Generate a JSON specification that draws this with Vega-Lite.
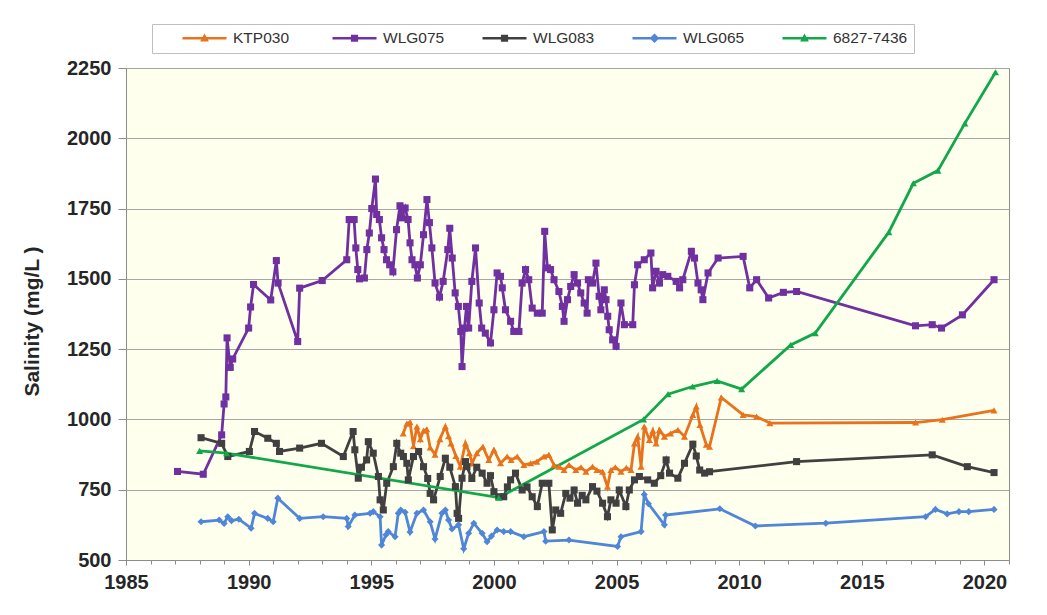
{
  "$schema": "https://vega.github.io/schema/vega-lite/v6.json",
  "width": 883,
  "height": 492,
  "autosize": {"type": "none"},
  "padding": {"left": 126, "top": 68, "right": 38, "bottom": 55},
  "background": "white",
  "config": {
    "view": {"fill": "#FFFFEE", "stroke": "#8C8C8C", "strokeWidth": 1},
    "font": "Liberation Sans"
  },
  "datasets": {
    "obs": [
      {"s":"KTP030","t":1996.3,"v":950},{"s":"KTP030","t":1996.45,"v":985},{"s":"KTP030","t":1996.58,"v":990},{"s":"KTP030","t":1996.72,"v":905},{"s":"KTP030","t":1996.86,"v":975},{"s":"KTP030","t":1997.0,"v":930},{"s":"KTP030","t":1997.13,"v":960},{"s":"KTP030","t":1997.26,"v":965},{"s":"KTP030","t":1997.4,"v":900},{"s":"KTP030","t":1997.6,"v":875},{"s":"KTP030","t":1997.8,"v":930},{"s":"KTP030","t":1998.02,"v":975},{"s":"KTP030","t":1998.15,"v":940},{"s":"KTP030","t":1998.25,"v":915},{"s":"KTP030","t":1998.45,"v":870},{"s":"KTP030","t":1998.63,"v":832},{"s":"KTP030","t":1998.84,"v":915},{"s":"KTP030","t":1999.0,"v":880},{"s":"KTP030","t":1999.11,"v":844},{"s":"KTP030","t":1999.3,"v":880},{"s":"KTP030","t":1999.55,"v":903},{"s":"KTP030","t":1999.79,"v":856},{"s":"KTP030","t":2000.0,"v":892},{"s":"KTP030","t":2000.27,"v":844},{"s":"KTP030","t":2000.54,"v":868},{"s":"KTP030","t":2000.7,"v":856},{"s":"KTP030","t":2000.95,"v":868},{"s":"KTP030","t":2001.22,"v":838},{"s":"KTP030","t":2001.5,"v":844},{"s":"KTP030","t":2001.75,"v":850},{"s":"KTP030","t":2002.04,"v":868},{"s":"KTP030","t":2002.24,"v":874},{"s":"KTP030","t":2002.45,"v":838},{"s":"KTP030","t":2002.65,"v":832},{"s":"KTP030","t":2002.86,"v":820},{"s":"KTP030","t":2003.06,"v":838},{"s":"KTP030","t":2003.34,"v":820},{"s":"KTP030","t":2003.55,"v":830},{"s":"KTP030","t":2003.75,"v":814},{"s":"KTP030","t":2004.02,"v":832},{"s":"KTP030","t":2004.2,"v":820},{"s":"KTP030","t":2004.43,"v":814},{"s":"KTP030","t":2004.63,"v":761},{"s":"KTP030","t":2004.77,"v":820},{"s":"KTP030","t":2004.95,"v":830},{"s":"KTP030","t":2005.18,"v":814},{"s":"KTP030","t":2005.4,"v":828},{"s":"KTP030","t":2005.59,"v":820},{"s":"KTP030","t":2005.73,"v":915},{"s":"KTP030","t":2005.86,"v":939},{"s":"KTP030","t":2006.0,"v":832},{"s":"KTP030","t":2006.13,"v":975},{"s":"KTP030","t":2006.34,"v":927},{"s":"KTP030","t":2006.48,"v":960},{"s":"KTP030","t":2006.61,"v":915},{"s":"KTP030","t":2006.75,"v":963},{"s":"KTP030","t":2006.95,"v":939},{"s":"KTP030","t":2007.2,"v":950},{"s":"KTP030","t":2007.5,"v":963},{"s":"KTP030","t":2007.77,"v":939},{"s":"KTP030","t":2008.11,"v":1016},{"s":"KTP030","t":2008.25,"v":1046},{"s":"KTP030","t":2008.4,"v":980},{"s":"KTP030","t":2008.66,"v":910},{"s":"KTP030","t":2008.79,"v":903},{"s":"KTP030","t":2009.27,"v":1078},{"s":"KTP030","t":2010.16,"v":1016},{"s":"KTP030","t":2010.71,"v":1010},{"s":"KTP030","t":2011.25,"v":987},{"s":"KTP030","t":2017.19,"v":989},{"s":"KTP030","t":2018.28,"v":999},{"s":"KTP030","t":2020.39,"v":1032},

      {"s":"WLG075","t":1987.1,"v":815},{"s":"WLG075","t":1988.15,"v":805},{"s":"WLG075","t":1988.9,"v":945},{"s":"WLG075","t":1989.0,"v":1055},{"s":"WLG075","t":1989.07,"v":1080},{"s":"WLG075","t":1989.12,"v":1290},{"s":"WLG075","t":1989.25,"v":1185},{"s":"WLG075","t":1989.35,"v":1215},{"s":"WLG075","t":1990.0,"v":1325},{"s":"WLG075","t":1990.08,"v":1400},{"s":"WLG075","t":1990.2,"v":1480},{"s":"WLG075","t":1990.9,"v":1425},{"s":"WLG075","t":1991.13,"v":1565},{"s":"WLG075","t":1991.2,"v":1485},{"s":"WLG075","t":1992.0,"v":1277},{"s":"WLG075","t":1992.08,"v":1467},{"s":"WLG075","t":1993.0,"v":1494},{"s":"WLG075","t":1994.0,"v":1568},{"s":"WLG075","t":1994.1,"v":1711},{"s":"WLG075","t":1994.3,"v":1711},{"s":"WLG075","t":1994.37,"v":1610},{"s":"WLG075","t":1994.45,"v":1533},{"s":"WLG075","t":1994.52,"v":1500},{"s":"WLG075","t":1994.72,"v":1503},{"s":"WLG075","t":1994.82,"v":1604},{"s":"WLG075","t":1994.92,"v":1663},{"s":"WLG075","t":1995.02,"v":1750},{"s":"WLG075","t":1995.17,"v":1855},{"s":"WLG075","t":1995.22,"v":1729},{"s":"WLG075","t":1995.33,"v":1711},{"s":"WLG075","t":1995.42,"v":1646},{"s":"WLG075","t":1995.52,"v":1604},{"s":"WLG075","t":1995.62,"v":1568},{"s":"WLG075","t":1995.75,"v":1550},{"s":"WLG075","t":1995.88,"v":1525},{"s":"WLG075","t":1996.03,"v":1675},{"s":"WLG075","t":1996.17,"v":1760},{"s":"WLG075","t":1996.25,"v":1717},{"s":"WLG075","t":1996.38,"v":1752},{"s":"WLG075","t":1996.5,"v":1711},{"s":"WLG075","t":1996.58,"v":1628},{"s":"WLG075","t":1996.66,"v":1568},{"s":"WLG075","t":1996.78,"v":1550},{"s":"WLG075","t":1996.88,"v":1503},{"s":"WLG075","t":1997.0,"v":1550},{"s":"WLG075","t":1997.13,"v":1657},{"s":"WLG075","t":1997.27,"v":1782},{"s":"WLG075","t":1997.37,"v":1700},{"s":"WLG075","t":1997.47,"v":1610},{"s":"WLG075","t":1997.6,"v":1485},{"s":"WLG075","t":1997.78,"v":1435},{"s":"WLG075","t":1997.93,"v":1491},{"s":"WLG075","t":1998.12,"v":1604},{"s":"WLG075","t":1998.2,"v":1680},{"s":"WLG075","t":1998.3,"v":1574},{"s":"WLG075","t":1998.42,"v":1450},{"s":"WLG075","t":1998.55,"v":1402},{"s":"WLG075","t":1998.65,"v":1313},{"s":"WLG075","t":1998.7,"v":1188},{"s":"WLG075","t":1998.8,"v":1325},{"s":"WLG075","t":1998.88,"v":1402},{"s":"WLG075","t":1998.97,"v":1325},{"s":"WLG075","t":1999.1,"v":1491},{"s":"WLG075","t":1999.25,"v":1610},{"s":"WLG075","t":1999.4,"v":1414},{"s":"WLG075","t":1999.5,"v":1325},{"s":"WLG075","t":1999.65,"v":1307},{"s":"WLG075","t":1999.86,"v":1272},{"s":"WLG075","t":2000.0,"v":1390},{"s":"WLG075","t":2000.13,"v":1521},{"s":"WLG075","t":2000.27,"v":1509},{"s":"WLG075","t":2000.34,"v":1468},{"s":"WLG075","t":2000.47,"v":1390},{"s":"WLG075","t":2000.68,"v":1349},{"s":"WLG075","t":2000.81,"v":1313},{"s":"WLG075","t":2001.02,"v":1313},{"s":"WLG075","t":2001.15,"v":1485},{"s":"WLG075","t":2001.29,"v":1533},{"s":"WLG075","t":2001.42,"v":1497},{"s":"WLG075","t":2001.56,"v":1396},{"s":"WLG075","t":2001.77,"v":1378},{"s":"WLG075","t":2001.97,"v":1378},{"s":"WLG075","t":2002.07,"v":1669},{"s":"WLG075","t":2002.18,"v":1539},{"s":"WLG075","t":2002.31,"v":1533},{"s":"WLG075","t":2002.45,"v":1497},{"s":"WLG075","t":2002.65,"v":1455},{"s":"WLG075","t":2002.79,"v":1402},{"s":"WLG075","t":2002.86,"v":1349},{"s":"WLG075","t":2003.0,"v":1426},{"s":"WLG075","t":2003.13,"v":1473},{"s":"WLG075","t":2003.27,"v":1515},{"s":"WLG075","t":2003.41,"v":1485},{"s":"WLG075","t":2003.54,"v":1450},{"s":"WLG075","t":2003.68,"v":1414},{"s":"WLG075","t":2003.8,"v":1378},{"s":"WLG075","t":2003.85,"v":1497},{"s":"WLG075","t":2004.02,"v":1485},{"s":"WLG075","t":2004.16,"v":1556},{"s":"WLG075","t":2004.29,"v":1438},{"s":"WLG075","t":2004.36,"v":1390},{"s":"WLG075","t":2004.5,"v":1461},{"s":"WLG075","t":2004.57,"v":1426},{"s":"WLG075","t":2004.64,"v":1367},{"s":"WLG075","t":2004.7,"v":1319},{"s":"WLG075","t":2004.84,"v":1283},{"s":"WLG075","t":2004.98,"v":1260},{"s":"WLG075","t":2005.18,"v":1414},{"s":"WLG075","t":2005.32,"v":1337},{"s":"WLG075","t":2005.66,"v":1337},{"s":"WLG075","t":2005.73,"v":1479},{"s":"WLG075","t":2005.86,"v":1550},{"s":"WLG075","t":2006.13,"v":1568},{"s":"WLG075","t":2006.4,"v":1592},{"s":"WLG075","t":2006.47,"v":1468},{"s":"WLG075","t":2006.61,"v":1527},{"s":"WLG075","t":2006.75,"v":1485},{"s":"WLG075","t":2006.88,"v":1515},{"s":"WLG075","t":2007.09,"v":1509},{"s":"WLG075","t":2007.43,"v":1491},{"s":"WLG075","t":2007.57,"v":1468},{"s":"WLG075","t":2007.7,"v":1497},{"s":"WLG075","t":2008.05,"v":1598},{"s":"WLG075","t":2008.18,"v":1574},{"s":"WLG075","t":2008.32,"v":1485},{"s":"WLG075","t":2008.45,"v":1461},{"s":"WLG075","t":2008.52,"v":1426},{"s":"WLG075","t":2008.73,"v":1521},{"s":"WLG075","t":2009.14,"v":1574},{"s":"WLG075","t":2010.16,"v":1580},{"s":"WLG075","t":2010.43,"v":1468},{"s":"WLG075","t":2010.71,"v":1497},{"s":"WLG075","t":2011.2,"v":1432},{"s":"WLG075","t":2011.8,"v":1452},{"s":"WLG075","t":2012.34,"v":1455},{"s":"WLG075","t":2017.19,"v":1333},{"s":"WLG075","t":2017.87,"v":1337},{"s":"WLG075","t":2018.25,"v":1325},{"s":"WLG075","t":2019.1,"v":1372},{"s":"WLG075","t":2020.39,"v":1497},

      {"s":"WLG083","t":1988.06,"v":935},{"s":"WLG083","t":1988.9,"v":915},{"s":"WLG083","t":1989.15,"v":868},{"s":"WLG083","t":1990.03,"v":886},{"s":"WLG083","t":1990.24,"v":957},{"s":"WLG083","t":1990.78,"v":933},{"s":"WLG083","t":1991.13,"v":915},{"s":"WLG083","t":1991.26,"v":886},{"s":"WLG083","t":1992.08,"v":898},{"s":"WLG083","t":1992.97,"v":915},{"s":"WLG083","t":1993.86,"v":868},{"s":"WLG083","t":1994.26,"v":957},{"s":"WLG083","t":1994.33,"v":892},{"s":"WLG083","t":1994.47,"v":791},{"s":"WLG083","t":1994.6,"v":830},{"s":"WLG083","t":1994.81,"v":856},{"s":"WLG083","t":1994.88,"v":921},{"s":"WLG083","t":1995.08,"v":880},{"s":"WLG083","t":1995.29,"v":797},{"s":"WLG083","t":1995.36,"v":714},{"s":"WLG083","t":1995.49,"v":678},{"s":"WLG083","t":1995.63,"v":773},{"s":"WLG083","t":1995.9,"v":832},{"s":"WLG083","t":1996.04,"v":915},{"s":"WLG083","t":1996.2,"v":880},{"s":"WLG083","t":1996.31,"v":868},{"s":"WLG083","t":1996.45,"v":844},{"s":"WLG083","t":1996.51,"v":785},{"s":"WLG083","t":1996.72,"v":868},{"s":"WLG083","t":1996.93,"v":886},{"s":"WLG083","t":1997.13,"v":832},{"s":"WLG083","t":1997.3,"v":790},{"s":"WLG083","t":1997.4,"v":737},{"s":"WLG083","t":1997.54,"v":714},{"s":"WLG083","t":1997.81,"v":797},{"s":"WLG083","t":1998.02,"v":862},{"s":"WLG083","t":1998.2,"v":830},{"s":"WLG083","t":1998.43,"v":761},{"s":"WLG083","t":1998.5,"v":666},{"s":"WLG083","t":1998.56,"v":648},{"s":"WLG083","t":1998.7,"v":791},{"s":"WLG083","t":1998.84,"v":850},{"s":"WLG083","t":1998.9,"v":832},{"s":"WLG083","t":1999.1,"v":790},{"s":"WLG083","t":1999.3,"v":830},{"s":"WLG083","t":1999.52,"v":809},{"s":"WLG083","t":1999.72,"v":773},{"s":"WLG083","t":1999.86,"v":800},{"s":"WLG083","t":2000.0,"v":743},{"s":"WLG083","t":2000.2,"v":725},{"s":"WLG083","t":2000.4,"v":725},{"s":"WLG083","t":2000.55,"v":760},{"s":"WLG083","t":2000.68,"v":785},{"s":"WLG083","t":2000.88,"v":809},{"s":"WLG083","t":2001.15,"v":749},{"s":"WLG083","t":2001.35,"v":760},{"s":"WLG083","t":2001.56,"v":725},{"s":"WLG083","t":2001.77,"v":690},{"s":"WLG083","t":2001.97,"v":773},{"s":"WLG083","t":2002.24,"v":773},{"s":"WLG083","t":2002.38,"v":607},{"s":"WLG083","t":2002.52,"v":678},{"s":"WLG083","t":2002.72,"v":666},{"s":"WLG083","t":2002.93,"v":737},{"s":"WLG083","t":2003.1,"v":720},{"s":"WLG083","t":2003.27,"v":749},{"s":"WLG083","t":2003.41,"v":702},{"s":"WLG083","t":2003.6,"v":730},{"s":"WLG083","t":2003.75,"v":714},{"s":"WLG083","t":2004.02,"v":761},{"s":"WLG083","t":2004.2,"v":745},{"s":"WLG083","t":2004.43,"v":702},{"s":"WLG083","t":2004.63,"v":654},{"s":"WLG083","t":2004.77,"v":714},{"s":"WLG083","t":2004.98,"v":702},{"s":"WLG083","t":2005.11,"v":749},{"s":"WLG083","t":2005.38,"v":690},{"s":"WLG083","t":2005.52,"v":749},{"s":"WLG083","t":2005.73,"v":785},{"s":"WLG083","t":2005.93,"v":797},{"s":"WLG083","t":2006.27,"v":785},{"s":"WLG083","t":2006.54,"v":773},{"s":"WLG083","t":2006.8,"v":800},{"s":"WLG083","t":2007.02,"v":856},{"s":"WLG083","t":2007.16,"v":809},{"s":"WLG083","t":2007.5,"v":791},{"s":"WLG083","t":2007.77,"v":844},{"s":"WLG083","t":2008.11,"v":912},{"s":"WLG083","t":2008.25,"v":870},{"s":"WLG083","t":2008.39,"v":820},{"s":"WLG083","t":2008.59,"v":809},{"s":"WLG083","t":2008.79,"v":814},{"s":"WLG083","t":2012.34,"v":850},{"s":"WLG083","t":2017.87,"v":874},{"s":"WLG083","t":2019.3,"v":832},{"s":"WLG083","t":2020.39,"v":811},

      {"s":"WLG065","t":1988.06,"v":636},{"s":"WLG065","t":1988.8,"v":642},{"s":"WLG065","t":1989.0,"v":630},{"s":"WLG065","t":1989.15,"v":654},{"s":"WLG065","t":1989.3,"v":640},{"s":"WLG065","t":1989.6,"v":645},{"s":"WLG065","t":1990.1,"v":613},{"s":"WLG065","t":1990.24,"v":666},{"s":"WLG065","t":1990.78,"v":648},{"s":"WLG065","t":1991.0,"v":636},{"s":"WLG065","t":1991.19,"v":720},{"s":"WLG065","t":1992.08,"v":648},{"s":"WLG065","t":1993.04,"v":654},{"s":"WLG065","t":1994.0,"v":648},{"s":"WLG065","t":1994.06,"v":619},{"s":"WLG065","t":1994.33,"v":660},{"s":"WLG065","t":1994.95,"v":666},{"s":"WLG065","t":1995.08,"v":672},{"s":"WLG065","t":1995.36,"v":654},{"s":"WLG065","t":1995.42,"v":553},{"s":"WLG065","t":1995.6,"v":590},{"s":"WLG065","t":1995.69,"v":601},{"s":"WLG065","t":1995.97,"v":583},{"s":"WLG065","t":1996.1,"v":666},{"s":"WLG065","t":1996.2,"v":678},{"s":"WLG065","t":1996.38,"v":670},{"s":"WLG065","t":1996.58,"v":600},{"s":"WLG065","t":1996.86,"v":666},{"s":"WLG065","t":1997.13,"v":678},{"s":"WLG065","t":1997.4,"v":636},{"s":"WLG065","t":1997.6,"v":575},{"s":"WLG065","t":1997.88,"v":666},{"s":"WLG065","t":1998.02,"v":678},{"s":"WLG065","t":1998.15,"v":642},{"s":"WLG065","t":1998.29,"v":610},{"s":"WLG065","t":1998.56,"v":625},{"s":"WLG065","t":1998.77,"v":540},{"s":"WLG065","t":1998.97,"v":595},{"s":"WLG065","t":1999.18,"v":631},{"s":"WLG065","t":1999.52,"v":595},{"s":"WLG065","t":1999.72,"v":565},{"s":"WLG065","t":1999.9,"v":585},{"s":"WLG065","t":2000.13,"v":607},{"s":"WLG065","t":2000.4,"v":601},{"s":"WLG065","t":2000.68,"v":601},{"s":"WLG065","t":2001.22,"v":583},{"s":"WLG065","t":2002.04,"v":601},{"s":"WLG065","t":2002.11,"v":567},{"s":"WLG065","t":2003.06,"v":571},{"s":"WLG065","t":2005.04,"v":548},{"s":"WLG065","t":2005.18,"v":583},{"s":"WLG065","t":2006.0,"v":601},{"s":"WLG065","t":2006.13,"v":733},{"s":"WLG065","t":2006.3,"v":700},{"s":"WLG065","t":2006.95,"v":625},{"s":"WLG065","t":2007.0,"v":660},{"s":"WLG065","t":2009.21,"v":682},{"s":"WLG065","t":2010.66,"v":621},{"s":"WLG065","t":2013.53,"v":631},{"s":"WLG065","t":2017.6,"v":654},{"s":"WLG065","t":2018.0,"v":680},{"s":"WLG065","t":2018.48,"v":664},{"s":"WLG065","t":2018.96,"v":672},{"s":"WLG065","t":2019.36,"v":672},{"s":"WLG065","t":2020.39,"v":680},

      {"s":"6827-7436","t":1988.0,"v":888},{"s":"6827-7436","t":1989.1,"v":880},{"s":"6827-7436","t":2000.2,"v":722},{"s":"6827-7436","t":2006.1,"v":1000},{"s":"6827-7436","t":2007.1,"v":1090},{"s":"6827-7436","t":2008.1,"v":1117},{"s":"6827-7436","t":2009.1,"v":1137},{"s":"6827-7436","t":2010.1,"v":1108},{"s":"6827-7436","t":2012.1,"v":1265},{"s":"6827-7436","t":2013.1,"v":1307},{"s":"6827-7436","t":2016.1,"v":1666},{"s":"6827-7436","t":2017.1,"v":1840},{"s":"6827-7436","t":2018.1,"v":1885},{"s":"6827-7436","t":2019.2,"v":2053},{"s":"6827-7436","t":2020.45,"v":2235}
    ]
  },
  "data": {"name": "obs"},
  "resolve": {"scale": {"color": "independent", "shape": "independent"}, "axis": {"x": "independent", "y": "independent"}},
  "layer": [
    {
      "mark": {"type": "line", "strokeWidth": 2.8, "clip": true},
      "encoding": {
        "x": {"field": "t", "type": "quantitative",
          "scale": {"domain": [1985, 2021], "nice": false, "zero": false},
          "axis": {"orient": "bottom", "values": [1985, 1990, 1995, 2000, 2005, 2010, 2015, 2020], "format": "d", "title": null, "grid": false,
            "domain": true, "domainColor": "#8C8C8C", "domainWidth": 1, "ticks": true, "tickColor": "#8C8C8C", "tickSize": 5,
            "labelFont": "Liberation Sans", "labelFontWeight": "bold", "labelFontSize": 20, "labelColor": "#262626", "labelPadding": 7, "labelFlush": false}},
        "y": {"field": "v", "type": "quantitative",
          "scale": {"domain": [500, 2250], "nice": false, "zero": false},
          "axis": {"orient": "left", "values": [500, 750, 1000, 1250, 1500, 1750, 2000, 2250], "format": "d", "grid": true, "gridColor": "#A6A6A6", "gridWidth": 1,
            "domain": false, "ticks": true, "tickColor": "#8C8C8C", "tickSize": 8,
            "labelFont": "Liberation Sans", "labelFontWeight": "bold", "labelFontSize": 20, "labelColor": "#262626", "labelPadding": 7,
            "title": "Salinity (mg/L )", "titleFont": "Liberation Sans", "titleFontWeight": "bold", "titleFontSize": 21, "titleColor": "#262626",
            "titleX": -94, "titleY": 253, "titleAngle": -90, "titleAlign": "center", "titleBaseline": "middle"}},
        "color": {"field": "s", "type": "nominal",
          "scale": {"domain": ["KTP030", "WLG075", "WLG083", "WLG065", "6827-7436"], "range": ["#E8731C", "#7030A0", "#404040", "#4F86D8", "#12A84A"]},
          "legend": null}
      }
    },
    {
      "mark": {"type": "point", "filled": true, "opacity": 1, "size": 50, "clip": true},
      "encoding": {
        "x": {"field": "t", "type": "quantitative",
          "axis": {"orient": "bottom", "values": [1985,1986,1987,1988,1989,1990,1991,1992,1993,1994,1995,1996,1997,1998,1999,2000,2001,2002,2003,2004,2005,2006,2007,2008,2009,2010,2011,2012,2013,2014,2015,2016,2017,2018,2019,2020,2021],
            "labels": false, "domain": false, "grid": false, "ticks": true, "tickColor": "#8C8C8C", "tickSize": 4, "title": null}},
        "y": {"field": "v", "type": "quantitative", "axis": null},
        "color": {"field": "s", "type": "nominal",
          "scale": {"domain": ["KTP030", "WLG075", "WLG083", "WLG065", "6827-7436"], "range": ["#E8731C", "#7030A0", "#404040", "#4F86D8", "#12A84A"]},
          "legend": null},
        "shape": {"field": "s", "type": "nominal",
          "scale": {"domain": ["KTP030", "WLG075", "WLG083", "WLG065", "6827-7436"], "range": ["triangle-up", "square", "square", "diamond", "triangle-up"]},
          "legend": null}
      }
    },
    {
      "mark": {"type": "point", "filled": true, "opacity": 0},
      "encoding": {
        "x": {"field": "t", "type": "quantitative", "axis": null},
        "y": {"field": "v", "type": "quantitative", "axis": null},
        "color": {"field": "s", "type": "nominal",
          "scale": {"domain": ["KTP030", "WLG075", "WLG083", "WLG065", "6827-7436"], "range": ["#E8731C", "#7030A0", "#404040", "#4F86D8", "#12A84A"]},
          "legend": {"title": null, "orient": "none", "legendX": 26, "legendY": -44, "direction": "horizontal", "columns": 5,
            "fillColor": "white", "strokeColor": "#BFBFBF", "padding": 6, "gridAlign": "all", "columnPadding": 0,
            "labelFont": "Liberation Sans", "labelFontSize": 15.5, "labelColor": "#333333", "labelOffset": 20.5,
            "symbolSize": 256, "symbolOffset": 38.5, "symbolStrokeWidth": 0, "symbolOpacity": 1}},
        "shape": {"field": "s", "type": "nominal",
          "scale": {"domain": ["KTP030", "WLG075", "WLG083", "WLG065", "6827-7436"],
            "range": ["M-2.75,-0.16H2.75V0.16H-2.75Z M0,-0.6L0.55,0.4H-0.55Z", "M-2.75,-0.16H2.75V0.16H-2.75Z M-0.45,-0.45H0.45V0.45H-0.45Z", "M-2.75,-0.16H2.75V0.16H-2.75Z M-0.45,-0.45H0.45V0.45H-0.45Z", "M-2.75,-0.16H2.75V0.16H-2.75Z M0,-0.6L0.6,0L0,0.6L-0.6,0Z", "M-2.75,-0.16H2.75V0.16H-2.75Z M0,-0.6L0.55,0.4H-0.55Z"]},
          "legend": {"title": null, "orient": "none", "legendX": 26, "legendY": -44, "direction": "horizontal", "columns": 5,
            "fillColor": "white", "strokeColor": "#BFBFBF", "padding": 6, "gridAlign": "all", "columnPadding": 0,
            "labelFont": "Liberation Sans", "labelFontSize": 15.5, "labelColor": "#333333", "labelOffset": 20.5,
            "symbolSize": 256, "symbolOffset": 38.5, "symbolStrokeWidth": 0, "symbolOpacity": 1}}
      }
    }
  ]
}
